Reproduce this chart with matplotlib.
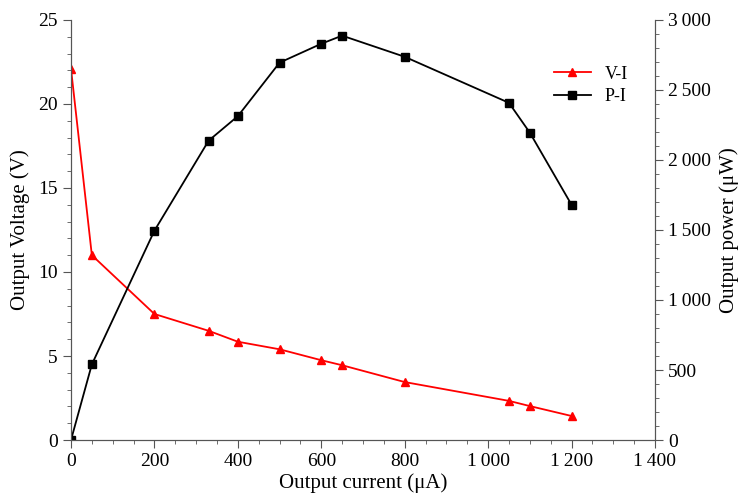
import numpy as np
import matplotlib.pyplot as plt
from matplotlib.ticker import MultipleLocator, FuncFormatter

plt.rcParams['font.family'] = ['Liberation Serif', 'DejaVu Serif']

# data
current = [0, 50, 200, 330, 400, 500, 600, 650, 800, 1050, 1100, 1200]
voltage = [22.1, 11.0, 7.5, 6.5, 5.85, 5.4, 4.75, 4.45, 3.45, 2.33, 2.02, 1.43]
power = [0, 540, 1495, 2138, 2313, 2695, 2830, 2888, 2737, 2408, 2195, 1680]


def thin_sep(v, pos):
    s = '{:,.0f}'.format(v)
    return s.replace(',', '\u2009')


fig = plt.figure(figsize=(7.38, 4.99), dpi=100)
ax = fig.add_axes([0.0962, 0.1182, 0.7913, 0.8418])
ax2 = ax.twinx()

l1, = ax.plot(current, voltage, color='red', marker='^', markersize=6, lw=1.3,
              label='V-I')
l2, = ax2.plot(current, power, color='black', marker='s', markersize=6, lw=1.3,
               label='P-I')

ax.set_xlim(0, 1400)
ax.set_ylim(0, 25)
ax2.set_ylim(0, 3000)

ax.xaxis.set_major_locator(MultipleLocator(200))
ax.xaxis.set_minor_locator(MultipleLocator(50))
ax.yaxis.set_major_locator(MultipleLocator(5))
ax.yaxis.set_minor_locator(MultipleLocator(1))
ax2.yaxis.set_major_locator(MultipleLocator(500))
ax2.yaxis.set_minor_locator(MultipleLocator(100))
ax.xaxis.set_major_formatter(FuncFormatter(thin_sep))
ax2.yaxis.set_major_formatter(FuncFormatter(thin_sep))

for a in (ax, ax2):
    a.spines['top'].set_visible(False)
    for sp in a.spines.values():
        sp.set_color('#555555')
    a.tick_params(which='major', length=6, color='#555555', labelsize=14)
    a.tick_params(which='minor', length=3, color='#555555')

ax.set_xlabel('Output current (\u03bcA)', fontsize=15, labelpad=2)
ax.set_ylabel('Output Voltage (V)', fontsize=15, labelpad=6)
ax2.set_ylabel('Output power (\u03bcW)', fontsize=15, labelpad=6)

ax.legend([l1, l2], ['V-I', 'P-I'], loc='upper left', bbox_to_anchor=(0.8, 0.93),
          frameon=False, fontsize=13, handlelength=2.0, labelspacing=0.3)

fig.savefig('out.png', dpi=100)
